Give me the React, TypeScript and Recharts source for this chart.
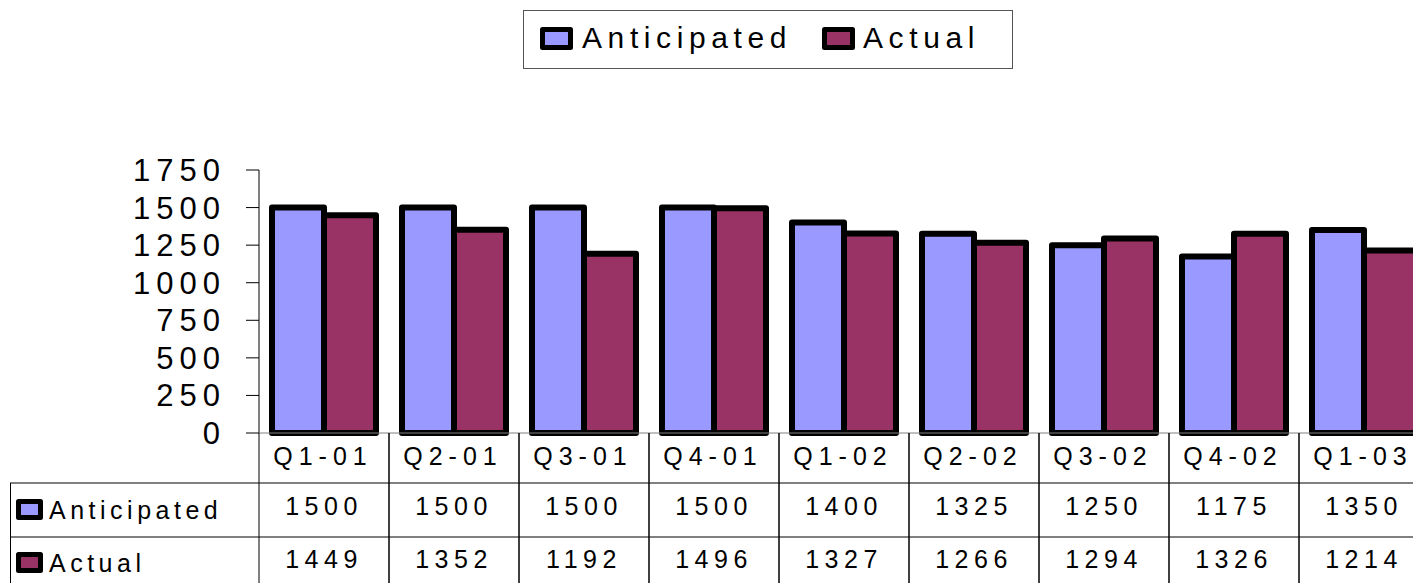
import React from "react";
import { BarChart, Bar, XAxis, YAxis, Legend, Customized } from "recharts";

const quarters = ["Q1-01", "Q2-01", "Q3-01", "Q4-01", "Q1-02", "Q2-02", "Q3-02", "Q4-02", "Q1-03"];
const anticipated = [1500, 1500, 1500, 1500, 1400, 1325, 1250, 1175, 1350];
const actual = [1449, 1352, 1192, 1496, 1327, 1266, 1294, 1326, 1214];
const yTicks = [0, 250, 500, 750, 1000, 1250, 1500, 1750];

const series = [
  { key: "anticipated", name: "Anticipated", color: "#9999FF", values: anticipated },
  { key: "actual", name: "Actual", color: "#993366", values: actual },
];

const data = quarters.map((q, i) => ({ quarter: q, anticipated: anticipated[i], actual: actual[i] }));

const FONT = "'Liberation Sans', Arial, sans-serif";
const CHART_W = 1440;
const CHART_H = 600;
const PLOT_LEFT = 259;
const PLOT_RIGHT = 1429;
const BAND = (PLOT_RIGHT - PLOT_LEFT) / quarters.length;

const Swatch = ({ x, y, w, h, color }: { x: number; y: number; w: number; h: number; color: string }) => (
  <rect x={x + 2.5} y={y + 2.5} width={w - 5} height={h - 5} fill={color} stroke="#000" strokeWidth={5} strokeLinejoin="round" />
);

// category label + the two value rows under each band
const TableTick = (props: any) => {
  const { x, y, index } = props;
  const left = x - BAND / 2;
  const right = x + BAND / 2;
  return (
    <g fontFamily={FONT} fontSize={25} fill="#000">
      <line x1={left} x2={left} y1={y} y2={CHART_H} stroke="#000" strokeWidth={1} />
      <line x1={right} x2={right} y1={y} y2={CHART_H} stroke="#000" strokeWidth={1} />
      <text x={x - 1} y={y + 32} textAnchor="middle" letterSpacing={6}>
        {quarters[index]}
      </text>
      {series.map((s, r) => (
        <text key={s.key} x={x} y={y + 82 + r * 53} textAnchor="middle" letterSpacing={5.5}>
          {s.values[index]}
        </text>
      ))}
    </g>
  );
};

const TableFrame = () => (
  <g fontFamily={FONT} fontSize={25} fill="#000">
    <line x1={10} x2={CHART_W} y1={483} y2={483} stroke="#808080" strokeWidth={2} />
    <line x1={10} x2={CHART_W} y1={537} y2={537} stroke="#000" strokeWidth={1} />
    <line x1={10.5} x2={10.5} y1={483} y2={CHART_H} stroke="#000" strokeWidth={1} />
    {series.map((s, r) => (
      <g key={s.key}>
        <Swatch x={16} y={499 + r * 53} w={27} h={21} color={s.color} />
        <text x={49} y={519 + r * 53} letterSpacing={4.5}>
          {s.name}
        </text>
      </g>
    ))}
  </g>
);

const TopLegend = () => (
  <svg width={490} height={59} style={{ display: "block" }}>
    <rect x={0.5} y={0.5} width={489} height={58} fill="#fff" stroke="#555" strokeWidth={1} />
    <Swatch x={17} y={17} w={33} h={23} color={series[0].color} />
    <text x={59} y={38} fontFamily={FONT} fontSize={30} letterSpacing={5.6}>
      {series[0].name}
    </text>
    <Swatch x={299} y={17} w={33} h={23} color={series[1].color} />
    <text x={340} y={38} fontFamily={FONT} fontSize={30} letterSpacing={5.6}>
      {series[1].name}
    </text>
  </svg>
);

export default function App() {
  return (
    <div style={{ position: "fixed", left: 0, top: 0, width: 1413, height: 583, overflow: "hidden", background: "#fff" }}>
      <BarChart
        width={CHART_W}
        height={CHART_H}
        data={data}
        margin={{ top: 170, right: CHART_W - PLOT_RIGHT, bottom: 117, left: 0 }}
        barCategoryGap="10%"
        barGap={0}
      >
        <YAxis
          width={PLOT_LEFT}
          domain={[0, 1750]}
          ticks={yTicks}
          interval={0}
          tickSize={13}
          tickMargin={20}
          axisLine={{ stroke: "#000" }}
          tickLine={{ stroke: "#000" }}
          tick={{ fontSize: 31, fill: "#000", fontFamily: FONT, letterSpacing: 6 }}
        />
        <XAxis
          dataKey="quarter"
          height={50}
          interval={0}
          tickSize={0}
          tickMargin={0}
          tickLine={false}
          axisLine={{ stroke: "#808080" }}
          tick={<TableTick />}
        />
        <Legend
          layout="horizontal"
          verticalAlign="middle"
          align="center"
          wrapperStyle={{ position: "absolute", left: 523, top: 10, width: 490, height: 59 }}
          content={() => <TopLegend />}
        />
        {series.map((s) => (
          <Bar
            key={s.key}
            dataKey={s.key}
            name={s.name}
            fill={s.color}
            stroke="#000"
            strokeWidth={6}
            strokeLinejoin="round"
            isAnimationActive={false}
          />
        ))}
        <Customized component={TableFrame} />
      </BarChart>
    </div>
  );
}
